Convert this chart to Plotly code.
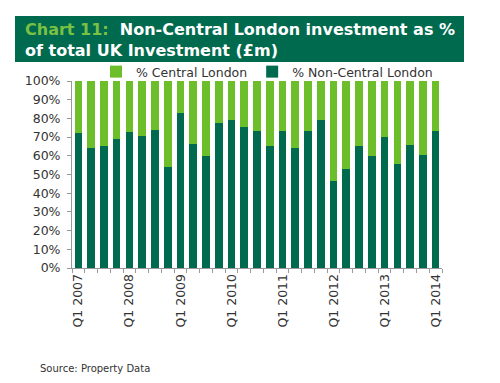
import plotly.graph_objects as go

quarters = [f"Q{q} {y}" for y in range(2007, 2015) for q in range(1, 5)][:29]
tick_text = [q if q.startswith("Q1") else "" for q in quarters]

non_central = [72, 64, 65, 69, 72.5, 70.5, 74, 54, 83, 66.5, 60, 77.5, 79, 75.5, 73,
               65.5, 73, 64, 73, 79, 46.5, 53, 65, 60, 70, 55.5, 66, 60.5, 73]
central = [28, 36, 35, 31, 27.5, 29.5, 26, 46, 17, 33.5, 40, 22.5, 21, 24.5, 27,
           34.5, 27, 36, 27, 21, 53.5, 47, 35, 40, 30, 44.5, 34, 39.5, 27]

y_ticks = list(range(0, 101, 10))
y_tick_labels = [f"{v}%" for v in y_ticks]

DARK = "#006A4E"
LIGHT = "#6CBE2A"
FONT = "DejaVu Sans"

W, H = 500, 383
L, R, T, B = 72, 58, 81, 115
pw, ph = W - L - R, H - T - B

def px(x):
    return (x - L) / pw

def py(y):
    return (H - B - y) / ph

fig = go.Figure()
fig.add_trace(go.Bar(x=quarters, y=non_central, name="% Non-Central London",
                     marker=dict(color=DARK, line=dict(width=0)), legendrank=2))
fig.add_trace(go.Bar(x=quarters, y=central, name="% Central London",
                     marker=dict(color=LIGHT, line=dict(width=0)), legendrank=1))

fig.update_layout(
    width=W, height=H,
    margin=dict(l=L, r=R, t=T, b=B, autoexpand=False),
    barmode="stack", bargap=0.4,
    paper_bgcolor="white", plot_bgcolor="white",
    font=dict(family=FONT, size=12.5, color="#333333"),
    showlegend=True,
    legend=dict(orientation="h", x=px(96), xanchor="left", y=py(72), yanchor="middle",
                traceorder="normal",
                font=dict(size=12.5, color="#333333"), itemwidth=30,
                bgcolor="rgba(0,0,0,0)"),
    xaxis=dict(type="category", tickmode="array", tickvals=quarters, ticktext=tick_text,
               tickangle=-90, tickson="boundaries", ticks="outside", ticklen=4,
               tickcolor="#999999", showline=True, linecolor="#999999", linewidth=1,
               showgrid=False, tickfont=dict(size=12.5, color="#333333"),
               range=[-0.5, 28.5], automargin=False),
    yaxis=dict(range=[0, 100], tickmode="array", tickvals=y_ticks, ticktext=y_tick_labels,
               ticks="outside", ticklen=4, tickcolor="#999999", showline=True,
               linecolor="#999999", linewidth=1, showgrid=False, zeroline=False,
               tickfont=dict(size=12.5, color="#333333"), ticklabelstandoff=4,
               automargin=False),
    shapes=[dict(type="rect", xref="paper", yref="paper",
                 x0=px(15), x1=px(464), y0=py(62), y1=py(16),
                 fillcolor=DARK, line=dict(width=0), layer="below")],
    annotations=[
        dict(xref="paper", yref="paper", x=px(23), y=py(29), xanchor="left", yanchor="middle",
             showarrow=False,
             text="<b><span style='color:#7AC143'>Chart 11:</span>&nbsp; Non-Central London investment as %</b>",
             font=dict(family=FONT, size=16, color="white")),
        dict(xref="paper", yref="paper", x=px(23), y=py(50), xanchor="left", yanchor="middle",
             showarrow=False,
             text="<b>of total UK Investment (£m)</b>",
             font=dict(family=FONT, size=16, color="white")),
        dict(xref="paper", yref="paper", x=px(38), y=py(368), xanchor="left", yanchor="middle",
             showarrow=False, text="Source: Property Data",
             font=dict(family=FONT, size=10, color="#333333")),
    ],
)

fig.write_html("out.html", config={"displayModeBar": False},
               post_script="document.body.style.margin='0';document.body.style.overflow='hidden';")
